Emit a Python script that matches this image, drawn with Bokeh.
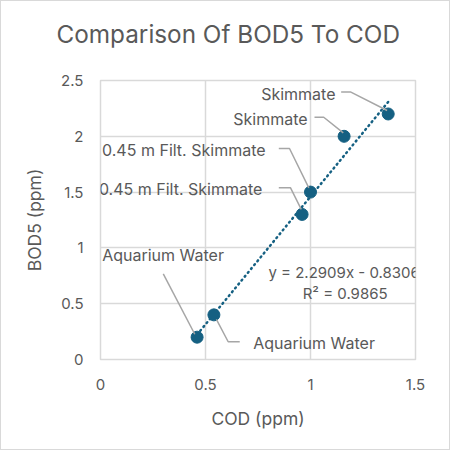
import numpy as np
from bokeh.plotting import figure
from bokeh.models import FixedTicker, Label, ColumnDataSource, Title
from bokeh.core.properties import value
from bokeh.embed import file_html
from bokeh.resources import INLINE

# ---- data ----
cod = [0.46, 0.54, 0.96, 1.00, 1.16, 1.37]
bod5 = [0.20, 0.40, 1.30, 1.50, 2.00, 2.20]
point_labels = ["Aquarium Water", "Aquarium Water", "0.45 m Filt. Skimmate",
                "0.45 m Filt. Skimmate", "Skimmate", "Skimmate"]
slope = 2.2909
intercept = -0.8306
r_squared = 0.9865
x_ticks = [0, 0.5, 1, 1.5]
x_tick_labels = ["0", "0.5", "1", "1.5"]
y_ticks = [0, 0.5, 1, 1.5, 2, 2.5]
y_tick_labels = ["0", "0.5", "1", "1.5", "2", "2.5"]
title_text = "Comparison Of BOD5 To COD"
x_title = "COD (ppm)"
y_title = "BOD5 (ppm)"

# ---- annotation placement (data units), label anchors and leader lines ----
label_x = [0.008, 0.727, 0.771, 0.786, 0.986, 1.119]
label_y = [0.933, 0.150, 1.524, 1.876, 2.159, 2.380]
label_align = ["left", "left", "right", "right", "right", "right"]
leader_xs = [[0.299, 0.449], [0.663, 0.608, 0.552], [0.849, 0.905, 0.956],
             [0.849, 0.900, 0.992], [1.019, 1.063, 1.156], [1.146, 1.190, 1.365]]
leader_ys = [[0.768, 0.226], [0.159, 0.159, 0.360], [1.538, 1.538, 1.345],
             [1.891, 1.891, 1.538], [2.171, 2.171, 2.030], [2.398, 2.398, 2.231]]
eq_x = 1.16
eq_y = [0.777, 0.589]

FONT = "Inter"
TXT = "#595959"
GRID = "#d9d9d9"
BLUE = "#156082"

p = figure(width=450, height=450, x_range=(0, 1.5), y_range=(0, 2.5),
           output_backend="svg", toolbar_location=None,
           min_border_left=99, min_border_right=36, min_border_top=78, min_border_bottom=92)
p.styles = {"border": "1px solid #d9d9d9"}
p.background_fill_color = "white"
p.border_fill_color = "white"
p.outline_line_color = GRID
p.outline_line_width = 1.5

# spacer panel between frame and title, then the title itself
p.add_layout(Title(text=" ", text_font_size="1px", standoff=9), "above")
p.add_layout(Title(text=title_text, align="left", offset=-44, vertical_align="top", standoff=35,
                   text_font=FONT, text_font_size="24.3px", text_font_style="normal",
                   text_color=TXT), "above")

p.xaxis.ticker = FixedTicker(ticks=x_ticks)
p.yaxis.ticker = FixedTicker(ticks=y_ticks)
p.xaxis.major_label_overrides = dict(zip(x_ticks, x_tick_labels))
p.yaxis.major_label_overrides = dict(zip(y_ticks, y_tick_labels))
for ax in (p.xaxis[0], p.yaxis[0]):
    ax.axis_line_color = None
    ax.major_tick_line_color = None
    ax.minor_tick_line_color = None
    ax.major_tick_out = 0
    ax.major_tick_in = 0
    ax.minor_tick_out = 0
    ax.minor_tick_in = 0
    ax.major_label_text_font = FONT
    ax.major_label_text_font_size = "15px"
    ax.major_label_text_color = TXT
    ax.axis_label_text_font = FONT
    ax.axis_label_text_font_size = "17.5px"
    ax.axis_label_text_font_style = "normal"
    ax.axis_label_text_color = TXT
p.xaxis.axis_label = x_title
p.yaxis.axis_label = y_title
p.xaxis.major_label_standoff = 19
p.yaxis.major_label_standoff = 17
p.xaxis.axis_label_standoff = 15
p.yaxis.axis_label_standoff = 13
p.grid.grid_line_color = GRID
p.grid.grid_line_width = 1.5

# trendline over data range
xs_fit = [min(cod), max(cod)]
ys_fit = [slope * x + intercept for x in xs_fit]
p.line(xs_fit, ys_fit, line_color=BLUE, line_width=2.5, line_dash="1 4", line_cap="round")

# points
p.scatter(cod, bod5, size=12, fill_color=BLUE, line_color=BLUE)

# leader lines (drawn over the markers, as in the reference)
p.multi_line(leader_xs, leader_ys, line_color="#a6a6a6", line_width=1.5)

# data labels
src = ColumnDataSource(dict(x=label_x, y=label_y, t=point_labels, a=label_align))
p.text("x", "y", text="t", source=src, text_align="a", text_baseline="middle",
       text_font=value(FONT), text_font_size="16px", text_color=TXT)

# equation
p.add_layout(Label(x=eq_x, y=eq_y[0], text=f"y = {slope}x - {abs(intercept)}", text_align="center",
                   text_baseline="middle", text_font=FONT, text_font_size="15px", text_color=TXT))
p.add_layout(Label(x=eq_x + 0.005, y=eq_y[1], text=f"R\u00b2 = {r_squared}", text_align="center",
                   text_baseline="middle", text_font=FONT, text_font_size="15px", text_color=TXT))

open("out.html", "w").write(file_html(p, INLINE))
